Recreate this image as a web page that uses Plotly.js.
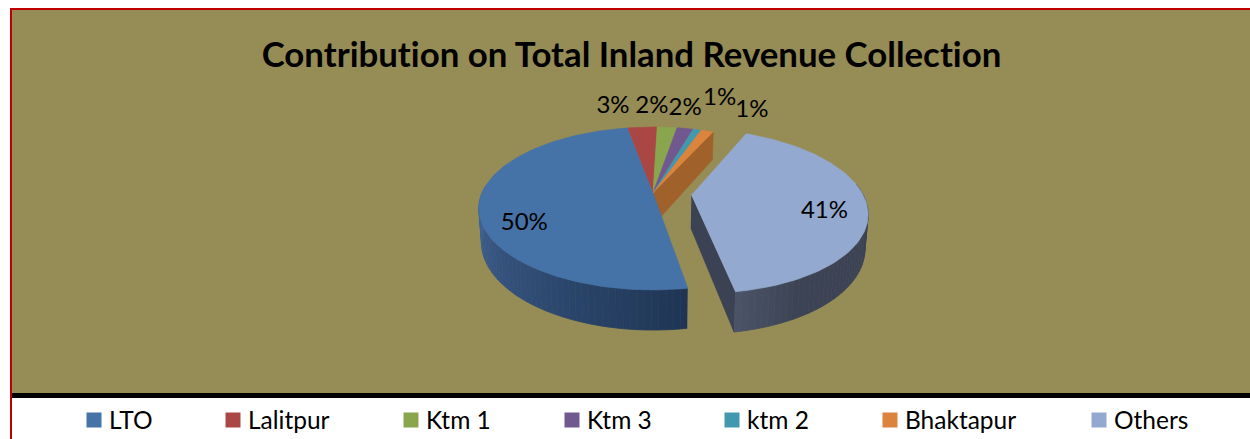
<!DOCTYPE html>
<html>
<head>
<meta charset="utf-8">
<script src="https://cdn.plot.ly/plotly-3.0.1.min.js"></script>
<style>html,body{margin:0;padding:0;background:#fff;overflow:hidden}#chart{width:1250px;height:439px}#chart text{font-variant-ligatures:none !important;font-feature-settings:"liga" 0,"clig" 0 !important}</style>
</head>
<body>
<div id="chart"></div>
<script>
// ---- data ----
const categories = ['LTO', 'Lalitpur', 'Ktm 1', 'Ktm 3', 'ktm 2', 'Bhaktapur', 'Others'];
const shares = [49.7, 3.3, 2.2, 1.8, 0.9, 1.4, 40.5];
const colors = ['#4572A7', '#AA4643', '#89A54E', '#71588F', '#4198AF', '#DB843D', '#93A9CF'];
const chartTitle = 'Contribution on Total Inland Revenue Collection';

// ---- layout / pseudo-3D camera settings (not data) ----
const FONT = 'Lato, Carlito, sans-serif';
const cx = 653, cy = 193, rx = 171, ry = 78.5, persp = 0.19, depth = 32.5, bottomShrink = 0.985;
const firstAngle = -9.5, explodeIndex = 6, explode = 0.225;
const labelRadius = [0.7, 1.15, 1.15, 1.15, 1.15, 1.15, 0.7];
const labelNudge = [[-8, 21], [-28, -12], [-17, -12], [-4, -11], [17, -23], [38, -12], [11, 9]];
const legendMarkerX = [94, 233, 411, 572, 732, 890, 1099];
const legendTextGap = 10;
const legendY = 420;

const rad = d => d * Math.PI / 180;
function project(t, r, off, bottom) {
  const u = -Math.sin(rad(t)) * r + off[0], v = Math.cos(rad(t)) * r + off[1];
  const s = 1 / (1 - persp * v);
  const k = bottom ? bottomShrink : 1;
  return [cx + u * rx * s * k, cy + v * ry * s + (bottom ? depth * s : 0)];
}
function hexMix(a, b, f) {
  const p = h => [1, 3, 5].map(i => parseInt(h.substr(i, 2), 16));
  const A = p(a), B = p(b);
  return 'rgb(' + A.map((c, i) => Math.round(c + (B[i] - c) * f)).join(',') + ')';
}
const total = shares.reduce((a, b) => a + b, 0);
let acc = firstAngle;
const sweeps = shares.map(v => {
  const s = { a0: acc, a1: acc + v / total * 360 };
  acc = s.a1; s.mid = (s.a0 + s.a1) / 2;
  return s;
});
const offsets = sweeps.map((s, i) => i === explodeIndex
  ? [-Math.sin(rad(s.mid)) * explode, Math.cos(rad(s.mid)) * explode] : [0, 0]);

function poly(points, color, lineW) {
  return {
    type: 'scatter', mode: 'lines', hoverinfo: 'skip', showlegend: false,
    x: points.map(p => p[0]), y: points.map(p => p[1]), fill: 'toself', fillcolor: color,
    line: { color: color, width: lineW === undefined ? 0.6 : lineW, shape: 'linear' }
  };
}
function arc(t0, t1, off, bottom) {
  const n = Math.max(2, Math.ceil(Math.abs(t1 - t0) / 1.5));
  const pts = [];
  for (let i = 0; i <= n; i++) pts.push(project(t0 + (t1 - t0) * i / n, 1, off, bottom));
  return pts;
}
function topFace(i) {
  const o = offsets[i], s = sweeps[i];
  return poly([project(0, 0, o, false)].concat(arc(s.a0, s.a1, o, false)), colors[i]);
}
function wallStrips(t0, t1, off, colorAt) {
  const out = [], step = 2;
  const n = Math.ceil(Math.abs(t1 - t0) / step);
  for (let i = 0; i < n; i++) {
    const a = t0 + (t1 - t0) * i / n, b = t0 + (t1 - t0) * (i + 1) / n;
    const c = colorAt(i / n);
    out.push(poly(arc(a, b, off, false).concat(arc(b, a, off, true)), c, 0.8));
  }
  return out;
}
const traces = [];
// cut face left open beside the exploded slice
const last = sweeps[5];
traces.push(poly([project(0, 0, [0, 0], false), project(last.a1, 1, [0, 0], false),
                  project(last.a1, 1, [0, 0], true), project(0, 0, [0, 0], true)], '#A0612B'));
// small slices
for (let i = 1; i <= 5; i++) traces.push(topFace(i));
// LTO outer wall + top
traces.push(...wallStrips(sweeps[0].a0, 95, [0, 0], f => hexMix('#1F3555', '#44699C', f)));
traces.push(topFace(0));
// Others cut face, wall, top
const oo = offsets[6], os = sweeps[6];
traces.push(poly([project(0, 0, oo, false), project(os.a1, 1, oo, false),
                  project(os.a1, 1, oo, true), project(0, 0, oo, true)], '#3B4254'));
traces.push(...wallStrips(os.a1, 262, oo, f => f < 0.2 ? hexMix('#4A5367', '#3C4355', f / 0.2) : '#3C4355'));
traces.push(topFace(6));

// percent labels, placed relative to each slice's mid-angle
const labelPts = sweeps.map((s, i) => {
  const p = project(s.mid, labelRadius[i], offsets[i], false);
  return [p[0] + labelNudge[i][0], p[1] + labelNudge[i][1]];
});
traces.push({
  type: 'scatter', mode: 'text', hoverinfo: 'skip', showlegend: false,
  x: labelPts.map(p => p[0]), y: labelPts.map(p => p[1]),
  text: shares.map(v => Math.round(v / total * 100) + '%'),
  textposition: 'middle center', textfont: { family: FONT, size: 24, color: '#000' }
});
// legend row
traces.push({
  type: 'scatter', mode: 'markers', hoverinfo: 'skip', showlegend: false,
  x: legendMarkerX, y: categories.map(() => legendY),
  marker: { symbol: 'square', size: 15, color: colors, line: { width: 0 } }
});
traces.push({
  type: 'scatter', mode: 'text', hoverinfo: 'skip', showlegend: false,
  x: legendMarkerX.map(x => x + legendTextGap + 5), y: categories.map(() => legendY + 3),
  text: categories, textposition: 'middle right',
  textfont: { family: FONT, size: 24.5, color: '#000' }
});

const rect = (x0, y0, x1, y1, color) => ({
  type: 'rect', xref: 'x', yref: 'y', x0, y0, x1, y1, layer: 'below',
  fillcolor: color, line: { width: 0 }
});
const layout = {
  width: 1250, height: 439, margin: { l: 0, r: 0, t: 0, b: 0, pad: 0 },
  paper_bgcolor: '#fff', plot_bgcolor: '#fff', showlegend: false,
  title: { text: '<b>' + chartTitle + '</b>', x: 631.5 / 1250, xanchor: 'center', xref: 'paper',
           y: 1 - 55 / 439, yanchor: 'middle', yref: 'container',
           font: { family: FONT, size: 34.8, color: '#000' } },
  xaxis: { visible: false, range: [0, 1250], fixedrange: true, domain: [0, 1] },
  yaxis: { visible: false, range: [439, 0], fixedrange: true, domain: [0, 1] },
  shapes: [
    rect(10, 8, 1250, 393, '#968C55'),
    rect(12, 393, 1250, 398, '#000'),
    rect(10, 8, 1250, 10, '#C00000'),
    rect(10, 8, 12, 439, '#C00000')
  ]
};
Plotly.newPlot('chart', traces, layout, { displayModeBar: false, staticPlot: true });
</script>
</body>
</html>
